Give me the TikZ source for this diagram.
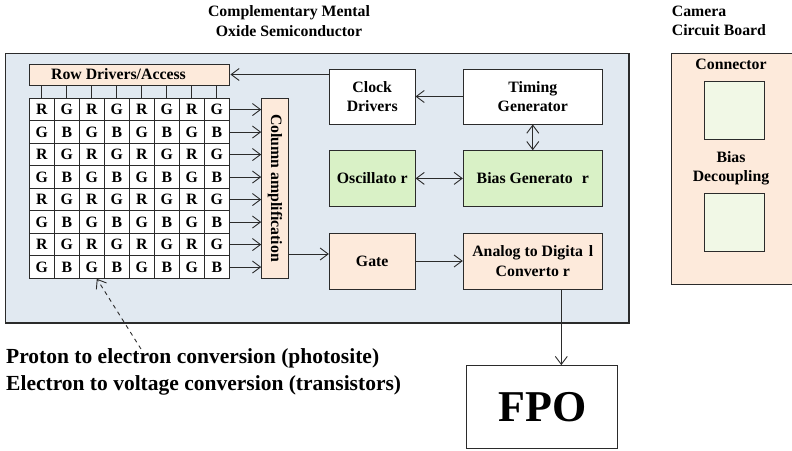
\documentclass[tikz,border=0pt]{standalone}
\usepackage{fontspec}
\setmainfont{Liberation Serif}
\usetikzlibrary{arrows.meta}
\definecolor{cmosbg}{HTML}{E1E9F1}
\definecolor{peach}{HTML}{FDEADB}
\definecolor{lgreen}{HTML}{D9F1C6}
\definecolor{pgreen}{HTML}{F1F8E6}
\definecolor{edge}{HTML}{2B2B2B}
\begin{document}
\begin{tikzpicture}[x=1pt,y=-1pt,
  txt/.style={inner sep=0pt, align=center, font=\fontsize{15.8}{19.3}\selectfont\bfseries},
  box/.style={txt, draw=edge, line width=1pt},
  cell/.style={draw=edge, line width=0.9pt, fill=white, minimum width=25pt, minimum height=22.5pt, inner sep=0pt, font=\fontsize{15.8}{19}\selectfont\bfseries},
  tipb/.tip={Straight Barb[length=8pt,width=12pt]},
  arr/.style={draw=edge, line width=0.9pt, -tipb},
  darr/.style={draw=edge, line width=0.9pt, tipb-tipb},
]
\useasboundingbox (0,0) rectangle (792,450);

% titles
\node[txt, anchor=center] (title) at (289,21) {Complementary Mental\\Oxide Semiconductor};
\node[txt, anchor=west, align=left] (camtitle) at (671.7,21) {Camera\\Circuit Board};

% main CMOS box
\node[draw=edge, line width=1.6pt, fill=cmosbg, minimum width=623.5pt, minimum height=269.7pt, inner sep=0pt] (cmos) at (317.25,188.15) {};

% camera board (its right side runs past the picture's edge)
\node[draw=edge, line width=1pt, fill=peach, minimum width=126pt, minimum height=230.7pt, inner sep=0pt] (board) at (734.7,168.65) {};
\node[txt] (conn) at (731,64) {Connector};
\node[draw=edge, line width=1pt, fill=pgreen, minimum width=59.3pt, minimum height=58pt] (sq1) at (734.6,110) {};
\node[txt] (biasdec) at (731,168.3) {Bias\\Decoupling};
\node[draw=edge, line width=1pt, fill=pgreen, minimum width=59.3pt, minimum height=57.7pt] (sq2) at (734.6,222.2) {};

% row drivers
\node[box, fill=peach, minimum width=200.7pt, minimum height=21pt] (rowdrv) at (129.6,74.5) {};
\node[txt] (rowtxt) at (118.5,74) {Row Drivers/Access};

% pixel grid
\foreach \r in {1,...,8}{
  \foreach \c in {1,...,8}{
    \pgfmathtruncatemacro{\odd}{mod(\r,2)}
    \pgfmathtruncatemacro{\codd}{mod(\c,2)}
    \ifnum\odd=1
      \ifnum\codd=1 \def\lab{R}\else\def\lab{G}\fi
    \else
      \ifnum\codd=1 \def\lab{G}\else\def\lab{B}\fi
    \fi
    \node[cell] (c\r-\c) at ({29.3+25*(\c-0.5)},{98.3+22.5*(\r-0.5)}) {\lab};
  }
}
\foreach \c in {1,...,8}{
  \draw[draw=edge, line width=0.9pt] (rowdrv.south -| c1-\c.north) -- (c1-\c.north);
}

% column amplification
\node[box, fill=peach, minimum width=26.6pt, minimum height=180pt] (colamp) at (275,188.15) {};
\node[txt, rotate=-90] (coltxt) at (275,188) {Column amplification};
\foreach \r in {1,...,8}{
  \draw[arr] (c\r-8.east) -- (c\r-8.east -| colamp.west);
}

% right blocks
\node[box, fill=white, minimum width=85.7pt, minimum height=55pt] (clock) at (372.2,96.5) {Clock\\Drivers};
\node[box, fill=white, minimum width=139pt, minimum height=55pt] (timing) at (532.8,96.5) {Timing\\Generator};
\node[box, fill=lgreen, minimum width=85.7pt, minimum height=55.3pt] (osc) at (372.2,178.4) {Oscillato r};
\node[box, fill=lgreen, minimum width=139pt, minimum height=55.3pt] (bias) at (532.8,178.4) {Bias Generato\hspace{9pt}r};
\node[box, fill=peach, minimum width=85.7pt, minimum height=56pt] (gate) at (372.2,261) {Gate};
\node[box, fill=peach, minimum width=139pt, minimum height=56pt] (adc) at (532.8,261) {Analog to Digita\hspace{6pt}l\\Converto r};

% FPO
\node[draw=edge, line width=1pt, fill=white, minimum width=151pt, minimum height=83.3pt, inner sep=0pt, font=\fontsize{44}{48}\selectfont\bfseries] (fpo) at (542.3,407.3) {FPO};

% connectors
\draw[arr] (rowdrv.east -| clock.west) -- (rowdrv.east);
\draw[arr] (timing.west) -- (clock.east);
\draw[darr] (timing.south) -- (bias.north);
\draw[darr] (osc.east) -- (bias.west);
\draw[arr] ([yshift=7pt]gate.west -| colamp.east) -- ([yshift=7pt]gate.west);
\draw[arr] (gate.east) -- (adc.west);
\draw[arr] ([xshift=28.5pt]adc.south) -- ([xshift=28.5pt]adc.south |- fpo.north);

% annotation
\node[inner sep=0pt, anchor=west, align=left, font=\fontsize{21.5}{27}\selectfont\bfseries] (note) at (6,372) {Proton to electron conversion (photosite)\\Electron to voltage conversion (transistors)};
\coordinate (dstart) at (141,349);
\draw[arr, dash pattern=on 4pt off 4pt] (dstart) -- ([xshift=5pt]c8-3.south);
\end{tikzpicture}
\end{document}
